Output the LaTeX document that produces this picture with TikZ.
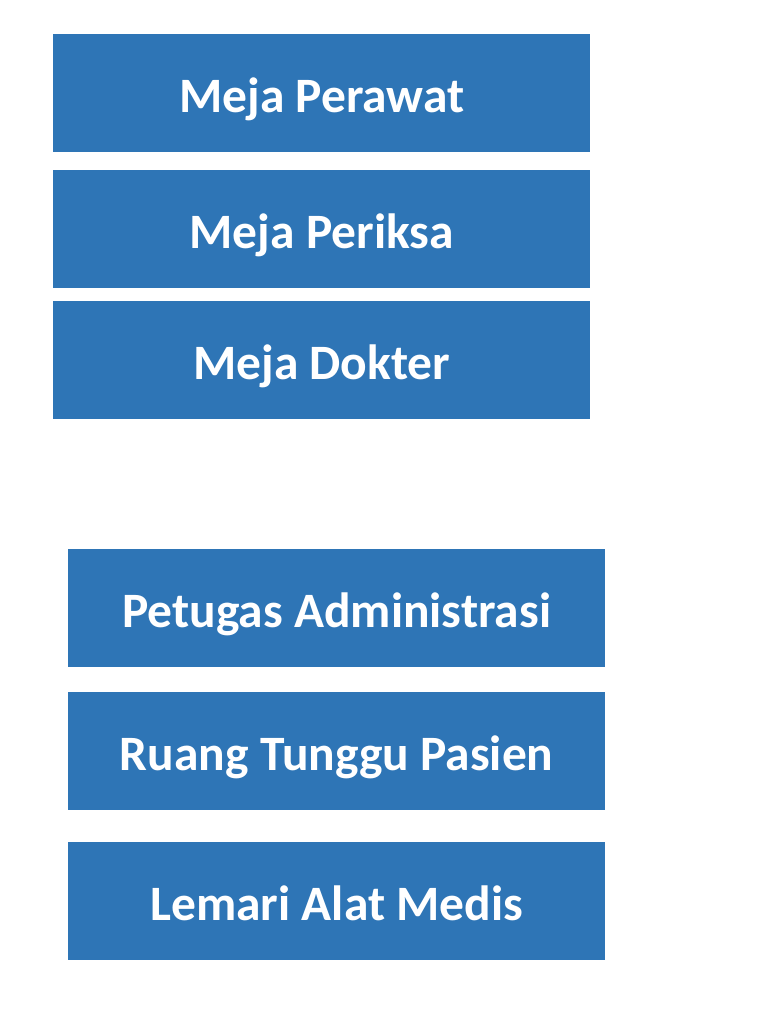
\documentclass[tikz,border=0pt]{standalone}
\usepackage{fontspec}
\setmainfont{Carlito}
\definecolor{boxblue}{HTML}{2E75B6}
\begin{document}
\begin{tikzpicture}[x=1pt,y=-1pt,
  blk/.style={fill=boxblue,draw=none,minimum width=537pt,minimum height=118pt,inner sep=0pt,
    text height=40pt,text depth=2pt,
    text=white,font=\fontsize{49.5}{54}\selectfont\bfseries,anchor=north west}]
\useasboundingbox (0,0) rectangle (768,1024);
\node[blk] (a) at (53,34) {Meja Perawat};
\node[blk] (b) at (53,170) {Meja Periksa};
\node[blk] (c) at (53,301) {Meja Dokter};
\node[blk] (d) at (68,549) {Petugas Administrasi};
\node[blk] (e) at (68,692) {Ruang Tunggu Pasien};
\node[blk] (f) at (68,842) {Lemari Alat Medis};
\end{tikzpicture}
\end{document}
